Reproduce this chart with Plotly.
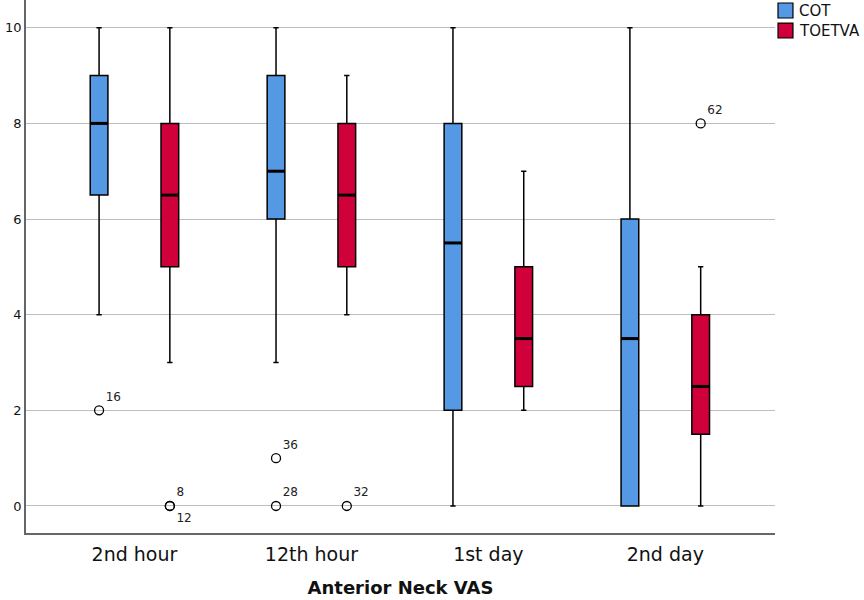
import plotly.graph_objects as go

categories = ["2nd hour", "12th hour", "1st day", "2nd day"]

cot_low = [4, 3, 0, 0]
cot_q1 = [6.5, 6, 2, 0]
cot_med = [8, 7, 5.5, 3.5]
cot_q3 = [9, 9, 8, 6]
cot_high = [10, 10, 10, 10]

toe_low = [3, 4, 2, 0]
toe_q1 = [5, 5, 2.5, 1.5]
toe_med = [6.5, 6.5, 3.5, 2.5]
toe_q3 = [8, 8, 5, 4]
toe_high = [10, 9, 7, 5]

# outliers: category index, value, case label
cot_out_cat = [0, 1, 1]
cot_out_val = [2, 1, 0]
cot_out_lbl = ["16", "36", "28"]

toe_out_cat = [0, 0, 1, 3]
toe_out_val = [0, 0, 0, 8]
toe_out_lbl = ["8", "12", "32", "62"]
toe_out_pos = ["top right", "bottom right", "top right", "top right"]

BLUE = "#5598E4"
RED = "#D0003A"
OFF = 0.2
W = 0.1

fig = go.Figure()

groups = [
    ("COT", -OFF, BLUE, cot_low, cot_q1, cot_med, cot_q3, cot_high),
    ("TOETVA", OFF, RED, toe_low, toe_q1, toe_med, toe_q3, toe_high),
]

for name, off, color, lo, q1, med, q3, hi in groups:
    xs = [i + off for i in range(len(categories))]
    fig.add_trace(go.Box(
        name=name,
        x=xs,
        lowerfence=lo,
        q1=q1,
        median=med,
        q3=q3,
        upperfence=hi,
        width=W,
        whiskerwidth=0.3,
        fillcolor=color,
        line=dict(color="black", width=1.5),
        boxpoints=False,
        hoverinfo="skip",
        showlegend=False,
    ))
    # thick median bars like SPSS
    for x, m in zip(xs, med):
        fig.add_shape(
            type="line", xref="x", yref="y",
            x0=x - W / 2, x1=x + W / 2, y0=m, y1=m,
            line=dict(color="black", width=3),
        )

fig.add_trace(go.Scatter(
    x=[c - OFF for c in cot_out_cat],
    y=cot_out_val,
    mode="markers+text",
    text=cot_out_lbl,
    textposition="top right",
    textfont=dict(size=12, color="#222"),
    marker=dict(symbol="circle-open", size=9, color="black", line=dict(width=1.3)),
    showlegend=False,
    hoverinfo="skip",
))

fig.add_trace(go.Scatter(
    x=[c + OFF for c in toe_out_cat],
    y=toe_out_val,
    mode="markers+text",
    text=toe_out_lbl,
    textposition=toe_out_pos,
    textfont=dict(size=12, color="#222"),
    marker=dict(symbol="circle-open", size=9, color="black", line=dict(width=1.3)),
    showlegend=False,
    hoverinfo="skip",
))

# legend drawn by hand so it does not push the plot margin
legend_items = [("COT", BLUE, 0.9944, 0.9662), ("TOETVA", RED, 0.9568, 0.9287)]
for label, color, top, bottom in legend_items:
    fig.add_shape(
        type="rect", xref="paper", yref="paper",
        x0=1.004, x1=1.024, y0=bottom, y1=top,
        fillcolor=color, line=dict(color="black", width=1.2),
    )
    fig.add_annotation(
        xref="paper", yref="paper", x=1.029, y=(top + bottom) / 2,
        text=label, showarrow=False, xanchor="left", yanchor="middle",
        font=dict(size=15, color="#111"),
    )

fig.update_layout(
    width=864,
    height=600,
    margin=dict(l=26, r=89, t=0, b=67),
    paper_bgcolor="white",
    plot_bgcolor="white",
    font=dict(family="DejaVu Sans", color="#111"),
    showlegend=False,
)

fig.update_xaxes(
    range=[-0.613, 3.62],
    tickvals=list(range(len(categories))),
    ticktext=categories,
    tickfont=dict(size=19),
    ticklabelstandoff=3,
    showgrid=False,
    zeroline=False,
    showline=True,
    linecolor="#666",
    linewidth=1.5,
    ticks="",
    automargin=False,
    title=dict(text="<b>Anterior Neck VAS</b>", font=dict(size=18), standoff=18),
)

fig.update_yaxes(
    range=[-0.565, 10.58],
    tickvals=[0, 2, 4, 6, 8, 10],
    tickfont=dict(size=13),
    showgrid=True,
    gridcolor="#BDBDBD",
    gridwidth=1,
    zeroline=False,
    showline=True,
    linecolor="#666",
    linewidth=1.5,
    ticks="",
    automargin=False,
)

fig.write_html(
    "out.html",
    config={"displayModeBar": False},
    post_script="document.body.style.margin='0';",
)
